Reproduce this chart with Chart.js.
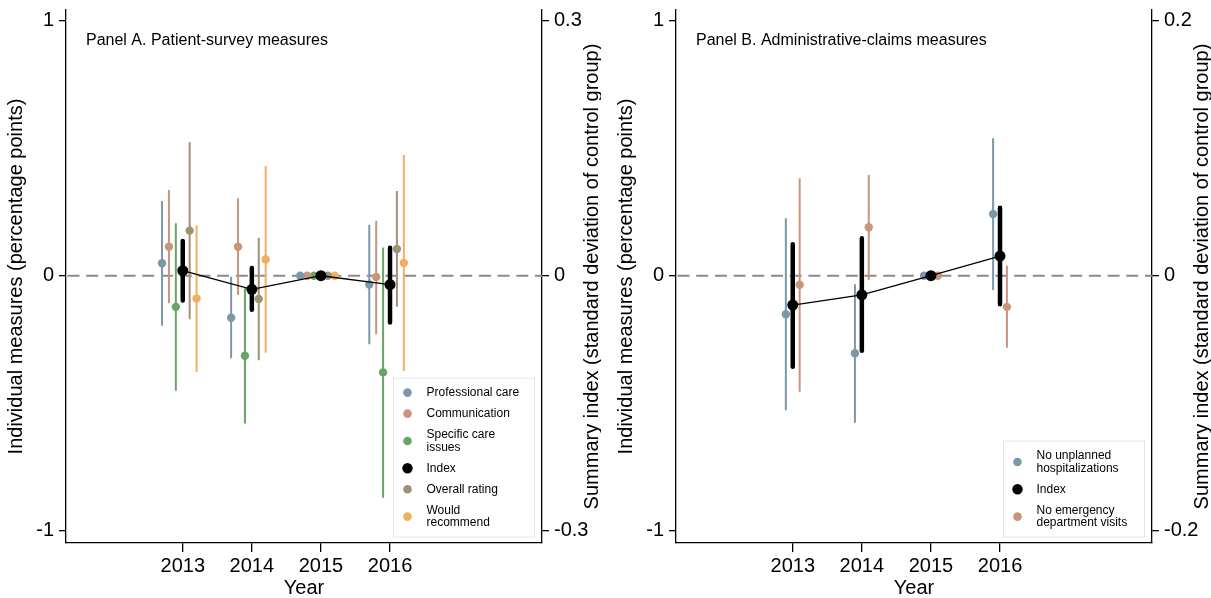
<!DOCTYPE html>
<html>
<head>
<meta charset="utf-8">
<script src="https://cdn.jsdelivr.net/npm/chart.js@4.4.1/dist/chart.umd.min.js"></script>
<style>
  html, body { margin: 0; padding: 0; background: #fff; overflow: hidden; }
  .panel { position: absolute; top: 0; width: 601px; height: 598px; }
</style>
</head>
<body>
<div class="panel" style="left:0"><canvas id="panelA"></canvas></div>
<div class="panel" style="left:610px"><canvas id="panelB"></canvas></div>
<script>
const years = [2013, 2014, 2015, 2016];

// Panel A - patient survey measures (percentage points)
const profCare = [0.049, -0.165, 0, -0.034];
const profCareLo = [-0.196, -0.324, 0, -0.269];
const profCareHi = [0.293, -0.004, 0, 0.200];

const communication = [0.114, 0.114, 0, -0.005];
const communicationLo = [-0.108, -0.076, 0, -0.229];
const communicationHi = [0.336, 0.304, 0, 0.216];

const specificCare = [-0.122, -0.314, 0, -0.379];
const specificCareLo = [-0.451, -0.579, 0, -0.871];
const specificCareHi = [0.206, -0.049, 0, 0.111];

const overallRating = [0.177, -0.091, 0, 0.105];
const overallRatingLo = [-0.171, -0.331, 0, -0.122];
const overallRatingHi = [0.523, 0.149, 0, 0.332];

const wouldRecommend = [-0.089, 0.064, 0, 0.050];
const wouldRecommendLo = [-0.377, -0.302, 0, -0.374];
const wouldRecommendHi = [0.198, 0.430, 0, 0.473];

// summary index, SD of control group (right axis)
const indexA = [0.006, -0.016, 0, -0.0105];
const indexALo = [-0.029, -0.040, 0, -0.055];
const indexAHi = [0.041, 0.009, 0, 0.033];

// Panel B - administrative claims measures
const noHosp = [-0.151, -0.304, 0, 0.242];
const noHospLo = [-0.527, -0.576, 0, -0.056];
const noHospHi = [0.225, -0.033, 0, 0.539];

const noEdVisits = [-0.035, 0.190, 0, -0.122];
const noEdVisitsLo = [-0.455, -0.017, 0, -0.282];
const noEdVisitsHi = [0.382, 0.395, 0, 0.039];

const indexB = [-0.023, -0.015, 0, 0.0154];
const indexBLo = [-0.0714, -0.0588, 0, -0.0224];
const indexBHi = [0.0246, 0.0294, 0, 0.0534];

const leftTicks = [-1, 0, 1];
const rightTicksA = [-0.3, 0, 0.3];
const rightTicksB = [-0.2, 0, 0.2];

const xMin = 2011.31, xMax = 2018.2;
const yMin = -1.048, yMax = 1.042;

const FONT = '"Liberation Sans", Arial, Helvetica, sans-serif';
Chart.defaults.font.family = FONT;
Chart.defaults.color = '#000';

const colProf = '#7b98ab';
const colComm = '#c9957d';
const colSpec = '#69a466';
const colOverall = '#9f9275';
const colWould = '#f0b062';

function ciData(lo, hi, shift) {
    let pts = [];
    for (let i = 0; i < years.length; i++) {
        pts.push({x: years[i] + shift, y: lo[i]});
        pts.push({x: years[i] + shift, y: hi[i]});
        pts.push({x: years[i] + shift, y: null});
    }
    return pts;
}

function estData(est, shift) {
    return years.map((yr, i) => ({x: yr + shift, y: est[i]}));
}

function buildDatasets(series, index) {
    let sets = [{
        data: [{x: xMin, y: 0}, {x: xMax, y: 0}],
        showLine: true, borderColor: '#8a8a8a', borderWidth: 1.8, borderDash: [12, 6.7],
        borderDashOffset: -1.5, pointRadius: 0, yAxisID: 'y', order: 10
    }];
    series.forEach((s) => {
        sets.push({
            data: ciData(s.lo, s.hi, s.shift), showLine: true, spanGaps: false,
            borderColor: s.color, borderWidth: 2, pointRadius: 0, yAxisID: 'y', order: 5
        });
        sets.push({
            data: estData(s.est, s.shift), pointRadius: 4.2, pointBackgroundColor: s.color,
            pointBorderWidth: 0, yAxisID: 'y', order: 4
        });
    });
    sets.push({
        data: ciData(index.lo, index.hi, 0), showLine: true, spanGaps: false,
        borderColor: '#000', borderWidth: 4.5, borderCapStyle: 'round', pointRadius: 0, yAxisID: 'y2', order: 2
    });
    sets.push({
        data: estData(index.est, 0), showLine: true, borderColor: '#000', borderWidth: 1.3,
        pointRadius: 5.5, pointBackgroundColor: '#000', pointBorderWidth: 0, yAxisID: 'y2', order: 1
    });
    return sets;
}

function axisGrid() {
    return { drawOnChartArea: false, drawTicks: true, tickLength: 7, color: '#000', lineWidth: 1.3 };
}

// panel title, right axis title (bottom-to-top) and the boxed legend
const panelDecor = {
    id: 'panelDecor',
    afterDraw(chart, args, opts) {
        const ctx = chart.ctx;
        const area = chart.chartArea;
        ctx.save();
        ctx.fillStyle = '#000';
        ctx.font = '16px ' + FONT;
        ctx.textAlign = 'left';
        ctx.textBaseline = 'alphabetic';
        ctx.fillText(opts.title, area.left + 20, area.top + 35);

        ctx.font = '20px ' + FONT;
        ctx.translate(area.right + 50, (area.top + area.bottom) / 2);
        ctx.rotate(-Math.PI / 2);
        ctx.textAlign = 'center';
        ctx.textBaseline = 'middle';
        ctx.fillText(opts.rightTitle, 0, 0);
        ctx.restore();

        const lineH = 12.7;
        let h = 7.5;
        opts.items.forEach(it => h += 8.3 + lineH * it.label.length);
        const w = 141;
        const bx = area.right - 8 - w;
        const by = area.bottom - 6.5 - h;
        ctx.save();
        ctx.fillStyle = '#fff';
        ctx.fillRect(bx, by, w, h);
        ctx.strokeStyle = '#dde8ee';
        ctx.lineWidth = 1;
        ctx.strokeRect(bx + 0.5, by + 0.5, w, h);
        ctx.font = '12px ' + FONT;
        ctx.textBaseline = 'middle';
        ctx.textAlign = 'left';
        let y = by + 4.5;
        opts.items.forEach(it => {
            const ih = 8.3 + lineH * it.label.length;
            const cy = y + ih / 2;
            ctx.fillStyle = it.color;
            ctx.beginPath();
            ctx.arc(bx + 14.5, cy, it.r, 0, Math.PI * 2);
            ctx.fill();
            ctx.fillStyle = '#000';
            it.label.forEach((t, k) => {
                ctx.fillText(t, bx + 33.5, cy + (k - (it.label.length - 1) / 2) * lineH);
            });
            y += ih;
        });
        ctx.restore();
    }
};

function makePanel(id, series, index, ratio, rightTicks, title, items) {
    const ctx = document.getElementById(id).getContext('2d');
    return new Chart(ctx, {
        type: 'scatter',
        data: { datasets: buildDatasets(series, index) },
        plugins: [panelDecor],
        options: {
            responsive: true,
            maintainAspectRatio: false,
            animation: false,
            events: [],
            layout: { padding: { top: 10, left: 0, right: 0, bottom: 0 } },
            plugins: {
                legend: { display: false },
                tooltip: { enabled: false },
                panelDecor: {
                    title: title,
                    rightTitle: 'Summary index (standard deviation of control group)',
                    items: items
                }
            },
            scales: {
                x: {
                    type: 'linear', min: xMin, max: xMax,
                    afterBuildTicks: (axis) => { axis.ticks = years.map(v => ({value: v})); },
                    afterFit: (axis) => { axis.height = 55; axis.paddingLeft = 0; axis.paddingRight = 0; },
                    grid: Object.assign(axisGrid(), { tickLength: 9 }),
                    border: { display: true, color: '#000', width: 1.3 },
                    ticks: { font: { size: 20 }, color: '#000', padding: 2, maxRotation: 0, callback: (v) => String(v) },
                    title: { display: true, text: 'Year', font: { size: 20, lineHeight: 1 }, color: '#000', padding: { top: 0, bottom: 0 } }
                },
                y: {
                    position: 'left', min: yMin, max: yMax,
                    afterBuildTicks: (axis) => { axis.ticks = leftTicks.map(v => ({value: v})); },
                    afterFit: (axis) => { axis.width = 66; axis.paddingTop = 0; axis.paddingBottom = 0; },
                    grid: axisGrid(),
                    border: { display: true, color: '#000', width: 1.3 },
                    ticks: { font: { size: 20 }, color: '#000', padding: 5, callback: (v) => String(v) },
                    title: { display: true, text: 'Individual measures (percentage points)', font: { size: 20 }, color: '#000' }
                },
                y2: {
                    position: 'right', min: yMin * ratio, max: yMax * ratio,
                    afterBuildTicks: (axis) => { axis.ticks = rightTicks.map(v => ({value: v})); },
                    afterFit: (axis) => { axis.width = 59; axis.paddingTop = 0; axis.paddingBottom = 0; },
                    grid: axisGrid(),
                    border: { display: true, color: '#000', width: 1.3 },
                    ticks: { font: { size: 20 }, color: '#000', padding: 5, callback: (v) => String(v) }
                }
            }
        }
    });
}

makePanel('panelA', [
    { est: profCare, lo: profCareLo, hi: profCareHi, color: colProf, shift: -0.3 },
    { est: communication, lo: communicationLo, hi: communicationHi, color: colComm, shift: -0.2 },
    { est: specificCare, lo: specificCareLo, hi: specificCareHi, color: colSpec, shift: -0.1 },
    { est: overallRating, lo: overallRatingLo, hi: overallRatingHi, color: colOverall, shift: 0.1 },
    { est: wouldRecommend, lo: wouldRecommendLo, hi: wouldRecommendHi, color: colWould, shift: 0.2 }
], { est: indexA, lo: indexALo, hi: indexAHi }, 0.3, rightTicksA,
'Panel A. Patient-survey measures', [
    { label: ['Professional care'], color: colProf, r: 4.3 },
    { label: ['Communication'], color: colComm, r: 4.3 },
    { label: ['Specific care', 'issues'], color: colSpec, r: 4.3 },
    { label: ['Index'], color: '#000', r: 5.2 },
    { label: ['Overall rating'], color: colOverall, r: 4.3 },
    { label: ['Would', 'recommend'], color: colWould, r: 4.3 }
]);

makePanel('panelB', [
    { est: noHosp, lo: noHospLo, hi: noHospHi, color: colProf, shift: -0.1 },
    { est: noEdVisits, lo: noEdVisitsLo, hi: noEdVisitsHi, color: colComm, shift: 0.1 }
], { est: indexB, lo: indexBLo, hi: indexBHi }, 0.2, rightTicksB,
'Panel B. Administrative-claims measures', [
    { label: ['No unplanned', 'hospitalizations'], color: colProf, r: 4.3 },
    { label: ['Index'], color: '#000', r: 5.2 },
    { label: ['No emergency', 'department visits'], color: colComm, r: 4.3 }
]);
</script>
</body>
</html>
